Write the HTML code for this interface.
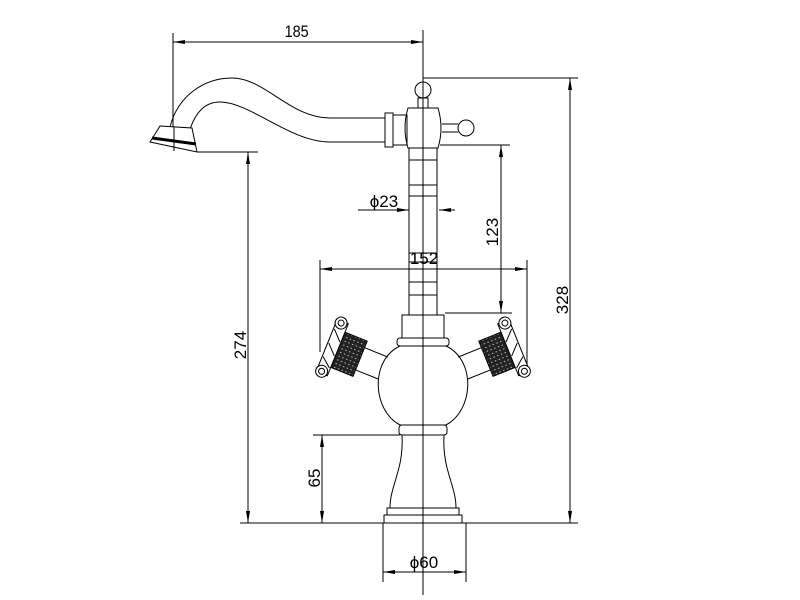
<!DOCTYPE html>
<html><head><style>html,body{margin:0;padding:0;background:#fff}svg{display:block}</style></head>
<body>
<svg width="800" height="600" viewBox="0 0 800 600" xmlns="http://www.w3.org/2000/svg" font-family="Liberation Sans, sans-serif">
<defs>
<marker id="a" viewBox="0 0 12 4" refX="12" refY="2" markerWidth="12" markerHeight="4" orient="auto-start-reverse" markerUnits="userSpaceOnUse"><path d="M0,0L12,2L0,4z" fill="#000"/></marker>
<pattern id="tx" width="4" height="4" patternUnits="userSpaceOnUse"><rect width="4" height="4" fill="#222"/><rect x="1" y="1" width="1.5" height="1" fill="#bbb"/></pattern>
<g id="hd">
<path d="M-45,-12 L-70,-12 M-45,12 L-70,12" stroke="#000" fill="none"/>
<rect x="-94" y="-19" width="24" height="38" fill="url(#tx)" stroke="#000"/>
<rect x="-106" y="-28" width="12" height="56" fill="#fff" stroke="#000"/>
<path d="M-105,-18 L-95,-8 M-105,-3 L-95,7 M-105,12 L-95,20" stroke="#000"/>
<circle cx="-101" cy="-26" r="6" fill="#fff" stroke="#000"/><circle cx="-101" cy="-26" r="3" fill="none" stroke="#000"/>
<circle cx="-101" cy="26" r="6" fill="#fff" stroke="#000"/><circle cx="-101" cy="26" r="3" fill="none" stroke="#000"/>
</g>
</defs>
<g stroke="#000" stroke-width="1" fill="none">
<line x1="173" y1="33" x2="173" y2="128"/>
<line x1="423" y1="30" x2="423" y2="595"/>
<line x1="173" y1="42" x2="423" y2="42" marker-start="url(#a)" marker-end="url(#a)"/>
<line x1="423" y1="78" x2="578" y2="78"/>
<line x1="570" y1="78" x2="570" y2="523" marker-start="url(#a)" marker-end="url(#a)"/>
<line x1="240" y1="523" x2="578" y2="523"/>
<line x1="197" y1="152" x2="258" y2="152"/>
<line x1="248" y1="152" x2="248" y2="523" marker-start="url(#a)" marker-end="url(#a)"/>
<line x1="440" y1="145" x2="510" y2="145"/>
<line x1="445" y1="313" x2="512" y2="313"/>
<line x1="501" y1="145" x2="501" y2="313" marker-start="url(#a)" marker-end="url(#a)"/>
<line x1="320" y1="260" x2="320" y2="352"/>
<line x1="527" y1="260" x2="527" y2="370"/>
<line x1="320" y1="269" x2="527" y2="269" marker-start="url(#a)" marker-end="url(#a)"/>
<line x1="358" y1="210" x2="409" y2="210"/>
<line x1="395" y1="210" x2="409" y2="210" marker-end="url(#a)"/>
<line x1="455" y1="210" x2="439" y2="210" marker-end="url(#a)"/>
<line x1="313" y1="435" x2="400" y2="435"/>
<line x1="322" y1="435" x2="322" y2="523" marker-start="url(#a)" marker-end="url(#a)"/>
<line x1="383" y1="523" x2="383" y2="582"/>
<line x1="466" y1="523" x2="466" y2="582"/>
<line x1="383" y1="572" x2="466" y2="572" marker-start="url(#a)" marker-end="url(#a)"/>
<path d="M170,127 C178,95 205,78 232,78 C265,78 290,118 330,118 L385,118"/>
<path d="M190,129 C196,112 205,102 220,102 C250,102 290,142 330,142 L385,142"/>
<path d="M160,126 L192,128 L197,152 L150,142 Z" fill="#fff"/>
<path d="M152,138 L196,144" stroke-width="3"/>
<line x1="174" y1="127" x2="174" y2="151"/>
<rect x="385" y="113" width="8" height="34"/><rect x="393" y="115" width="14" height="30"/>
<path d="M408,108 Q402,128 408,148 L438,148 Q444,128 438,108 Z"/>
<circle cx="423" cy="90" r="8"/><rect x="418" y="98" width="10" height="10"/>
<path d="M442,124 L458,124 M442,132 L458,132"/><circle cx="466" cy="128" r="8"/>
<path d="M409,148 L409,315 M437,148 L437,315"/>
<path d="M409,160 H437 M409,185 H437 M409,196 H437 M409,253 H437 M409,262 H437 M409,282 H437 M409,295 H437"/>
<rect x="402" y="315" width="42" height="23"/>
<rect x="397" y="338" width="52" height="8" rx="3"/>
<path d="M400,346 C370,360 372,410 400,425 L446,425 C474,410 476,360 446,346"/>
<rect x="399" y="425" width="48" height="10" rx="3"/>
<path d="M402,435 C404,470 390,485 390,508 M444,435 C442,470 456,485 456,508"/>
<rect x="387" y="508" width="72" height="7"/>
<rect x="384" y="515" width="78" height="8"/>
</g>
<use href="#hd" transform="translate(425,385) rotate(22)"/>
<use href="#hd" transform="translate(421,385) scale(-1,1) rotate(22)"/>
<g font-size="17" fill="#000" text-anchor="middle">
<text x="297" y="37" transform="scale(0.85,1) translate(52,0)">185</text>
<text x="424" y="264">152</text>
<text x="384" y="207">ϕ23</text>
<text x="424" y="568">ϕ60</text>
<text transform="translate(498,232) rotate(-90)">123</text>
<text transform="translate(568,300) rotate(-90)">328</text>
<text transform="translate(246,345) rotate(-90)">274</text>
<text transform="translate(320,478) rotate(-90)">65</text>
</g>
</svg>
</body></html>
